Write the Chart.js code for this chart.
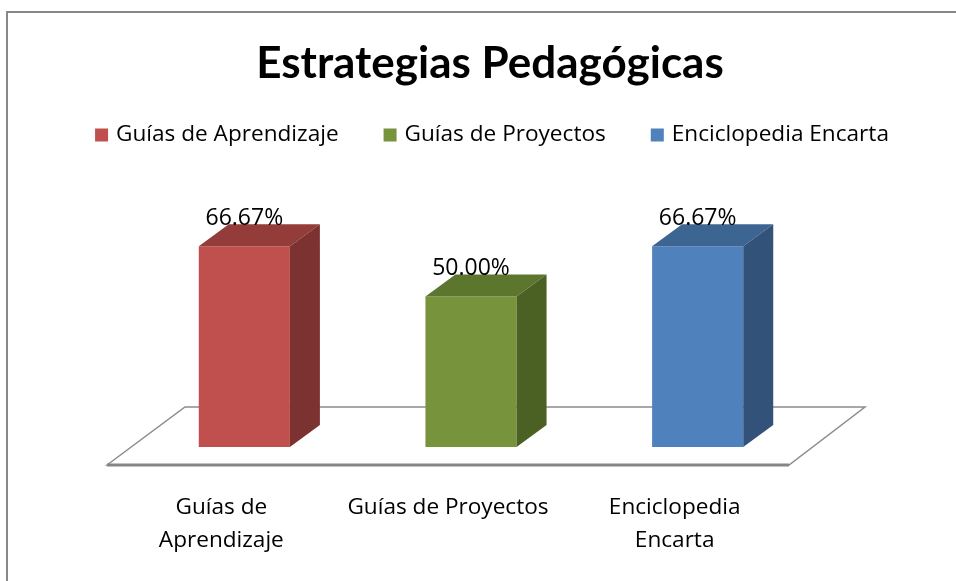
<!DOCTYPE html>
<html>
<head>
<meta charset="utf-8">
<script src="https://cdn.jsdelivr.net/npm/chart.js@4.4.1/dist/chart.umd.min.js"></script>
<style>
  html, body { margin: 0; padding: 0; background: #fff; }
  #wrap { width: 956px; height: 581px; }
</style>
</head>
<body>
<div id="wrap"><canvas id="chart"></canvas></div>
<script>
const categories = ['Guías de Aprendizaje', 'Guías de Proyectos', 'Enciclopedia Encarta'];
const tickLabels = [['Guías de', 'Aprendizaje'], ['Guías de Proyectos'], ['Enciclopedia', 'Encarta']];
const values = [66.67, 50.00, 66.67];

const frontColors = ['#C0504D', '#77933C', '#4F81BD'];
const topColors = ['#933C3A', '#5D762E', '#3D6592'];
const sideColors = ['#7B3230', '#4B6023', '#32527A'];

const TEXT_FONT = '"Open Sans"';
const depth = { dx: 30, dy: -22 };

// white page + grey frame on top and left
const framePlugin = {
  id: 'frame',
  beforeDraw(chart) {
    const ctx = chart.ctx;
    ctx.save();
    ctx.fillStyle = '#fff';
    ctx.fillRect(0, 0, chart.width, chart.height);
    ctx.strokeStyle = '#888';
    ctx.lineWidth = 2;
    ctx.beginPath();
    ctx.moveTo(7, chart.height);
    ctx.lineTo(7, 12);
    ctx.lineTo(chart.width, 12);
    ctx.stroke();
    ctx.restore();
  }
};

// one-row legend: square + label, centred under the title
const legendRow = {
  id: 'legendRow',
  afterDraw(chart) {
    const ctx = chart.ctx;
    const box = 13, gap = 8, spacing = 45, y = 135;
    ctx.save();
    ctx.font = '22.6px ' + TEXT_FONT;
    const widths = categories.map(c => ctx.measureText(c).width);
    const total = widths.reduce((s, w) => s + box + gap + w, 0) + spacing * (categories.length - 1);
    let x = 492 - total / 2;
    ctx.textBaseline = 'middle';
    categories.forEach((c, i) => {
      ctx.fillStyle = frontColors[i];
      ctx.fillRect(x, y - box / 2, box, box);
      ctx.fillStyle = '#000';
      ctx.fillText(c, x + box + gap, y);
      x += box + gap + widths[i] + spacing;
    });
    ctx.restore();
  }
};

// floor under the bars, then the top and side faces of each bar, then value labels
const threeD = {
  id: 'threeD',
  beforeDatasetsDraw(chart) {
    const ctx = chart.ctx;
    const area = chart.chartArea;
    const y0 = chart.scales.y.getPixelForValue(0);
    ctx.save();
    ctx.strokeStyle = '#8c8c8c';
    ctx.lineWidth = 1.5;
    ctx.beginPath();
    ctx.moveTo(area.left - 24, y0 + 18);
    ctx.lineTo(area.left + 54, y0 - 40);
    ctx.lineTo(area.right + 54, y0 - 40);
    ctx.lineTo(area.right - 22, y0 + 18);
    ctx.closePath();
    ctx.stroke();
    ctx.strokeStyle = '#858585';
    ctx.lineWidth = 3;
    ctx.beginPath();
    ctx.moveTo(area.left - 24, y0 + 18);
    ctx.lineTo(area.right - 22, y0 + 18);
    ctx.stroke();
    ctx.restore();
  },
  afterDatasetsDraw(chart) {
    const ctx = chart.ctx;
    ctx.save();
    chart.data.datasets.forEach((ds, i) => {
      chart.getDatasetMeta(i).data.forEach((bar, j) => {
        if (ds.data[j] == null) return;
        const l = bar.x - bar.width / 2, r = bar.x + bar.width / 2;
        const t = bar.y, b = bar.base;
        ctx.fillStyle = topColors[i];
        ctx.beginPath();
        ctx.moveTo(l, t);
        ctx.lineTo(l + depth.dx, t + depth.dy);
        ctx.lineTo(r + depth.dx, t + depth.dy);
        ctx.lineTo(r, t);
        ctx.closePath();
        ctx.fill();
        ctx.fillStyle = sideColors[i];
        ctx.beginPath();
        ctx.moveTo(r, t);
        ctx.lineTo(r + depth.dx, t + depth.dy);
        ctx.lineTo(r + depth.dx, b + depth.dy);
        ctx.lineTo(r, b);
        ctx.closePath();
        ctx.fill();
      });
    });
    ctx.fillStyle = '#000';
    ctx.font = '23px ' + TEXT_FONT;
    ctx.textAlign = 'center';
    ctx.textBaseline = 'middle';
    chart.data.datasets.forEach((ds, i) => {
      chart.getDatasetMeta(i).data.forEach((bar, j) => {
        if (ds.data[j] == null) return;
        ctx.fillText(ds.data[j].toFixed(2) + '%', bar.x, bar.y - 28);
      });
    });
    ctx.restore();
  }
};

new Chart(document.getElementById('chart'), {
  type: 'bar',
  data: {
    labels: tickLabels,
    datasets: categories.map((c, i) => ({
      label: c,
      data: values.map((v, j) => (j === i ? v : null)),
      backgroundColor: frontColors[i],
      grouped: false,
      categoryPercentage: 1,
      barPercentage: 0.402
    }))
  },
  options: {
    responsive: true,
    maintainAspectRatio: false,
    animation: false,
    layout: { padding: { left: 24, right: 0, top: 0, bottom: 24 } },
    plugins: {
      title: {
        display: true,
        text: 'Estrategias Pedagógicas',
        color: '#000',
        font: { family: 'Lato', size: 44, weight: 'bold' },
        padding: { top: 37, bottom: 56 }
      },
      legend: { display: false },
      tooltip: { enabled: false }
    },
    scales: {
      x: {
        grid: { display: false, drawTicks: false },
        border: { display: false },
        ticks: {
          color: '#000',
          font: { family: TEXT_FONT, size: 22.6, lineHeight: 1.46 },
          padding: 44,
          labelOffset: -23,
          maxRotation: 0,
          autoSkip: false
        },
        afterFit(scale) { scale.height = 110; }
      },
      y: {
        min: 0,
        max: 100,
        grid: { display: false },
        border: { display: false },
        ticks: { display: false },
        afterFit(scale) { scale.width = 107; }
      },
      yRight: {
        type: 'linear',
        position: 'right',
        grid: { display: false },
        border: { display: false },
        ticks: { display: false },
        afterFit(scale) { scale.width = 145; }
      }
    }
  },
  plugins: [framePlugin, legendRow, threeD]
});
</script>
</body>
</html>
